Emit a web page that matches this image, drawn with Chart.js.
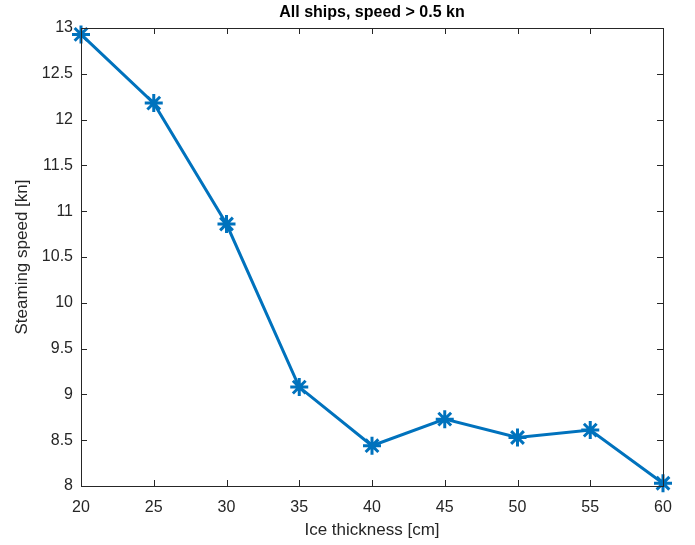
<!DOCTYPE html>
<html>
<head>
<meta charset="utf-8">
<script src="https://cdn.jsdelivr.net/npm/chart.js@4.4.0/dist/chart.umd.min.js"></script>
<style>
  body { margin: 0; background: #fff; }
  #wrap { width: 695px; height: 545px; }
</style>
</head>
<body>
<div id="wrap"><canvas id="plot"></canvas></div>
<script>
// values
const thickness = [20, 25, 30, 35, 40, 45, 50, 55, 60]
const speed = [12.93, 12.18, 10.86, 9.08, 8.44, 8.73, 8.53, 8.61, 8.03]
const xTicks = [20, 25, 30, 35, 40, 45, 50, 55, 60]
const yTicks = [8, 8.5, 9, 9.5, 10, 10.5, 11, 11.5, 12, 12.5, 13]

const axisColor = "#262626"
const font = "Liberation Sans, Arial, Helvetica, sans-serif"

// matlab style box with inward ticks
const boxPlugin = {
  id: "box",
  afterDatasetsDraw(chart) {
    const ctx = chart.ctx
    const a = chart.chartArea
    const xs = chart.scales.x, ys = chart.scales.y
    ctx.save()
    ctx.strokeStyle = axisColor
    ctx.lineWidth = 1
    ctx.strokeRect(a.left + 0.5, a.top + 0.5, a.right - a.left, a.bottom - a.top)
    ctx.beginPath()
    xTicks.forEach(v => {
      const px = Math.round(xs.getPixelForValue(v)) + 0.5
      ctx.moveTo(px, a.bottom); ctx.lineTo(px, a.bottom - 6)
      ctx.moveTo(px, a.top); ctx.lineTo(px, a.top + 6)
    })
    yTicks.forEach(v => {
      const py = Math.round(ys.getPixelForValue(v)) + 0.5
      ctx.moveTo(a.left, py); ctx.lineTo(a.left + 6, py)
      ctx.moveTo(a.right, py); ctx.lineTo(a.right - 6, py)
    })
    ctx.stroke()
    // title
    ctx.fillStyle = "#000"
    ctx.font = "bold 16px " + font
    ctx.textAlign = "center"
    ctx.textBaseline = "middle"
    ctx.fillText("All ships, speed > 0.5 kn", (a.left + a.right) / 2, 13)
    ctx.restore()
  }
}

new Chart(document.getElementById("plot"), {
  type: "line",
  data: {
    datasets: [{
      data: thickness.map((t, i) => ({ x: t, y: speed[i] })),
      borderColor: "#0072BD",
      backgroundColor: "#0072BD",
      borderWidth: 3,
      pointStyle: "star",
      pointRadius: 9,
      pointBorderWidth: 3,
      pointBorderColor: "#0072BD",
      clip: false,
      tension: 0
    }]
  },
  options: {
    responsive: true,
    maintainAspectRatio: false,
    animation: false,
    layout: { padding: { top: 28, right: 32, left: 0, bottom: 0 } },
    plugins: { legend: { display: false }, tooltip: { enabled: false } },
    scales: {
      x: {
        type: "linear",
        min: 20, max: 60,
        grid: { display: false, drawTicks: false },
        border: { display: false },
        afterBuildTicks: s => { s.ticks = xTicks.map(v => ({ value: v })) },
        afterFit: s => { s.height = 59 },
        ticks: { color: axisColor, font: { family: font, size: 16 }, padding: 12, maxRotation: 0 },
        title: { display: true, text: "Ice thickness [cm]", color: axisColor, font: { family: font, size: 17 }, padding: { top: 0, bottom: 4 } }
      },
      y: {
        min: 8, max: 13,
        grid: { display: false, drawTicks: false },
        border: { display: false },
        afterBuildTicks: s => { s.ticks = yTicks.map(v => ({ value: v })) },
        afterFit: s => { s.width = 81 },
        ticks: { color: axisColor, font: { family: font, size: 16 }, padding: 8, callback: v => String(v) },
        title: { display: true, text: "Steaming speed [kn]", color: axisColor, font: { family: font, size: 17 }, padding: { top: 12, bottom: 0 } }
      }
    }
  },
  plugins: [boxPlugin]
})
</script>
</body>
</html>
